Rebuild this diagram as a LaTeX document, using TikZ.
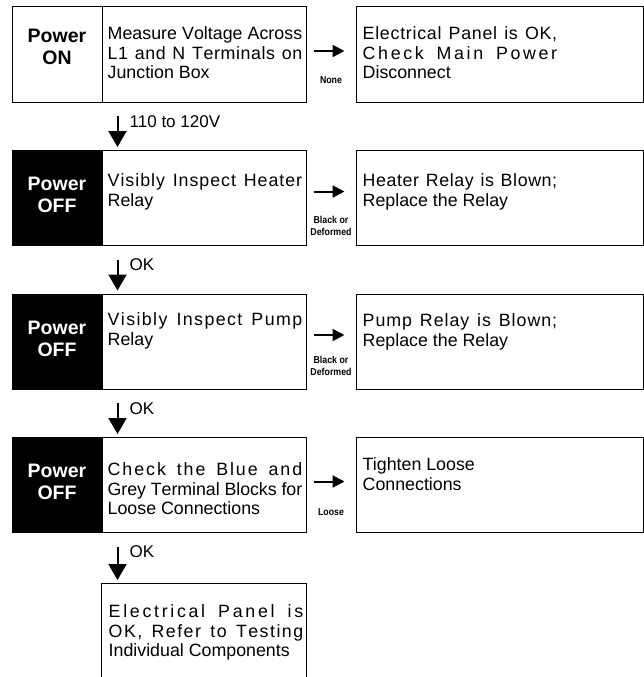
\documentclass[tikz,border=0pt]{standalone}
\usepackage{fontspec}
\setmainfont{Liberation Sans}
\newfontfamily\narrowfont[FakeStretch=0.88]{Liberation Sans}
\usetikzlibrary{arrows.meta,positioning,calc}

% a line spread out to the full text width, letter by letter
\ExplSyntaxOn
\seq_new:N \l_flow_words_seq
\cs_new_protected:Npn \flow_gap:
  { \hskip 0pt plus 1fil minus 0.06em }
\NewDocumentCommand \fullline { m }
  {
    \seq_set_split:Nnn \l_flow_words_seq { ~ } {#1}
    \makebox[194.5pt][s]
      {
        \hskip 0pt plus -1fil
        \seq_map_indexed_inline:Nn \l_flow_words_seq
          {
            \int_compare:nNnT {##1} > {1} { \c_space_tl \hskip 0pt plus 2fil }
            \tl_map_inline:nn {##2} { \flow_gap: ####1 }
          }
      }
  }
\ExplSyntaxOff

\tikzset{
  flowbox/.style={draw, line width=1pt, rectangle, inner sep=0pt, minimum height=95pt},
  powerbox/.style={flowbox, minimum width=90pt},
  offbox/.style={powerbox, fill=black},
  stepbox/.style={flowbox, minimum width=204pt},
  resbox/.style={flowbox, minimum width=287pt},
  powertext/.style={font=\fontsize{19.5}{22}\selectfont\bfseries, align=center, inner sep=0pt},
  bodytext/.style={font=\fontsize{17.8}{19.5}\selectfont, align=left, inner sep=0pt, anchor=north west},
  flowlabel/.style={font=\fontsize{17}{19}\selectfont, inner sep=0pt, anchor=north west},
  condtext/.style={font=\narrowfont\bfseries\fontsize{10}{12}\selectfont, align=center, inner sep=0pt},
  downarrow/.style={line width=2pt, -{Triangle[width=18pt,length=16pt]}, shorten <=13.5pt, shorten >=3pt},
  rightarrow/.style={line width=2pt, -{Triangle[width=12pt,length=12pt]}, shorten <=7pt, shorten >=11pt},
}

\begin{document}
\begin{tikzpicture}[x=1pt,y=-1pt]
  \useasboundingbox (0,0) rectangle (644,677);

  % the column of checks
  \node[stepbox] (step1) at (204,54.5) {};
  \node[stepbox, below=47.5pt of step1] (step2) {};
  \node[stepbox, below=47.5pt of step2] (step3) {};
  \node[stepbox, below=47.5pt of step3] (step4) {};
  \node[flowbox, draw=none, minimum width=204pt, minimum height=94pt, below=50pt of step4] (step5) {};
  \draw[line width=1pt] (step5.south west) -- (step5.north west) -- (step5.north east) -- (step5.south east);

  \node[powerbox, left=-1pt of step1] (power1) {};
  \node[offbox, left=-1pt of step2] (power2) {};
  \node[offbox, left=-1pt of step3] (power3) {};
  \node[offbox, left=-1pt of step4] (power4) {};

  \node[resbox, right=49pt of step1] (res1) {};
  \node[resbox, right=49pt of step2] (res2) {};
  \node[resbox, right=49pt of step3] (res3) {};
  \node[resbox, right=49pt of step4] (res4) {};

  % power state
  \node[powertext] (ptxt1) at ([yshift=8pt]power1.center) {Power\\ON};
  \foreach \i in {2,3,4}
    \node[powertext, text=white] (ptxt\i) at ([yshift=3pt]power\i.center) {Power\\OFF};

  % texts
  \node[bodytext] (stxt1) at ([xshift=6pt,yshift=-20pt]step1.north west) {\fullline{Measure Voltage Across}\\\fullline{L1 and N Terminals on}\\Junction Box};
  \node[bodytext] (stxt2) at ([xshift=6pt,yshift=-23.5pt]step2.north west) {\fullline{Visibly Inspect Heater}\\Relay};
  \node[bodytext] (stxt3) at ([xshift=6pt,yshift=-19pt]step3.north west) {\fullline{Visibly Inspect Pump}\\Relay};
  \node[bodytext] (stxt4) at ([xshift=6pt,yshift=-25.5pt]step4.north west) {\fullline{Check the Blue and}\\\fullline{Grey Terminal Blocks for}\\Loose Connections};
  \node[bodytext] (stxt5) at ([xshift=7pt,yshift=-21.5pt]step5.north west) {\fullline{Electrical Panel is}\\\fullline{OK, Refer to Testing}\\Individual Components};

  \node[bodytext] (rtxt1) at ([xshift=7pt,yshift=-20pt]res1.north west) {\fullline{Electrical Panel is OK,}\\\fullline{Check Main Power}\\Disconnect};
  \node[bodytext] (rtxt2) at ([xshift=7pt,yshift=-23.5pt]res2.north west) {\fullline{Heater Relay is Blown;}\\Replace the Relay};
  \node[bodytext] (rtxt3) at ([xshift=7pt,yshift=-20pt]res3.north west) {\fullline{Pump Relay is Blown;}\\Replace the Relay};
  \node[bodytext] (rtxt4) at ([xshift=7pt,yshift=-20.5pt]res4.north west) {Tighten Loose\\Connections};

  % arrows down
  \foreach \i/\j/\txt in {1/2/110 to 120V,2/3/OK,3/4/OK,4/5/OK}{
    \draw[downarrow] ([xshift=16pt]step\i.south west) -- ([xshift=16pt]step\j.north west);
    \node[flowlabel] (volt\i) at ([xshift=28pt,yshift=-12.5pt]step\i.south west) {\txt};
  }

  % arrows right
  \foreach \i/\dy/\up/\cond in {1/3.5pt/22.5/None,2/6.5pt/20/Black or\\Deformed,3/6.5pt/24/Black or\\Deformed,4/3.5pt/21/Loose}{
    \draw[rightarrow] ([yshift=\dy]step\i.east) -- ([yshift=\dy]res\i.west);
    \node[condtext] (cond\i) at ($(step\i.south east)!0.5!(res\i.south west)+(0,-\up)$) {\cond};
  }

\end{tikzpicture}
\end{document}
